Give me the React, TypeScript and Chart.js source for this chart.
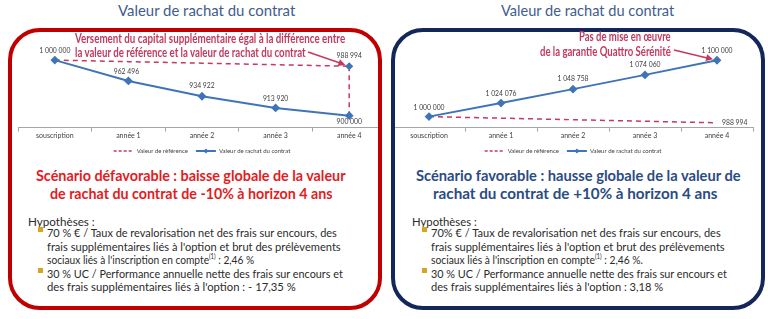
import React, { useEffect, useLayoutEffect, useRef } from "react";
import { Chart, registerables } from "chart.js";
Chart.register(...registerables);

// ---------- data ----------
const categories = ["souscription", "année 1", "année 2", "année 3", "année 4"];
const legendNames = ["Valeur de référence", "Valeur de rachat du contrat"];
const defavReference = [1000000, 997250, 994500, 991750, 988994];
const defavRachat = [1000000, 962496, 934922, 913920, 900000];
const favReference = [1000000, 997250, 994500, 991750, 988994];
const favRachat = [1000000, 1024076, 1048758, 1074060, 1100000];
const defavRange = [878500, 1020000];
const favRange = [980500, 1120000];

const chartTitle = "Valeur de rachat du contrat";
const defavNote = [
  "Versement  du capital supplémentaire égal à la différence entre",
  "la valeur de référence et la valeur de rachat du contrat",
];
const favNote = ["Pas de mise en œuvre", "de la garantie Quattro Sérénité"];
const defavScenario = [
  "Scénario défavorable : baisse globale de la valeur",
  "de rachat du contrat de -10% à horizon 4 ans",
];
const favScenario = [
  "Scénario favorable : hausse globale de la valeur de",
  "rachat du contrat de +10% à horizon 4 ans",
];
const hypTitle = "Hypothèses :";
const defavHyp = [
  "70 % € / Taux de revalorisation net des frais sur encours, des",
  "frais supplémentaires liés à l'option et brut des prélèvements",
  ["sociaux liés à l'inscription en compte", " : 2,46 %"],
  "30 % UC / Performance annuelle nette des frais sur encours et",
  "des frais supplémentaires liés à l'option : - 17,35 %",
];
const favHyp = [
  "70% € / Taux de revalorisation net des frais sur encours, des",
  "frais supplémentaires liés à l'option et brut des prélèvements",
  ["sociaux liés à l'inscription en compte", " : 2,46 %."],
  "30 % UC / Performance annuelle nette des frais sur encours et",
  "des frais supplémentaires liés à l'option : 3,18 %",
];

// ---------- styles ----------
const FONT = "Lato, 'Liberation Sans', sans-serif";
const REF_COLOR = "#c43a5e";
const LINE_COLOR = "#3f74b9";
Chart.defaults.font.family = FONT;

function fmt(v: number) {
  return String(v).replace(/\B(?=(\d{3})+(?!\d))/g, " ");
}

const chartExtras = {
  id: "chartExtras",
  beforeDatasetsDraw(chart: any, _a: any, opts: any) {
    if (!opts.gapLine) return;
    const ctx = chart.ctx;
    const a = chart.getDatasetMeta(0).data[opts.gapLine.index];
    const b = chart.getDatasetMeta(1).data[opts.gapLine.index];
    ctx.save();
    ctx.strokeStyle = REF_COLOR;
    ctx.lineWidth = 1.5;
    ctx.setLineDash([5, 4]);
    ctx.beginPath();
    ctx.moveTo(a.x, a.y);
    ctx.lineTo(b.x, b.y);
    ctx.stroke();
    ctx.restore();
  },
  afterDatasetsDraw(chart: any, _a: any, opts: any) {
    const ctx = chart.ctx;
    ctx.save();
    ctx.font = "6.8px " + FONT;
    ctx.fillStyle = "#404040";
    ctx.textBaseline = "middle";
    for (const it of opts.labels || []) {
      const el = chart.getDatasetMeta(it.ds).data[it.i];
      const v = chart.data.datasets[it.ds].data[it.i];
      ctx.textAlign = it.align || "center";
      ctx.fillText(fmt(v), el.x + (it.dx || 0), el.y + it.dy);
    }
    if (opts.arrow) {
      const A = opts.arrow;
      const el = chart.getDatasetMeta(A.ds).data[A.i];
      const sx = A.fromX, sy = A.fromY;
      const ang = Math.atan2(el.y - sy, el.x - sx);
      const c = Math.cos(ang), s = Math.sin(ang);
      const ex = el.x - c * A.gap, ey = el.y - s * A.gap;
      ctx.strokeStyle = REF_COLOR;
      ctx.fillStyle = REF_COLOR;
      ctx.lineWidth = 1.5;
      ctx.beginPath();
      ctx.moveTo(sx, sy);
      ctx.lineTo(ex - c * 5, ey - s * 5);
      ctx.stroke();
      const h = 7, w = 3.5;
      ctx.beginPath();
      ctx.moveTo(ex, ey);
      ctx.lineTo(ex - h * c + w * s, ey - h * s - w * c);
      ctx.lineTo(ex - h * c - w * s, ey - h * s + w * c);
      ctx.closePath();
      ctx.fill();
    }
    ctx.restore();
  },
  afterDraw(chart: any) {
    const lg = chart.legend;
    if (!lg || !lg.legendHitBoxes) return;
    const hb = lg.legendHitBoxes[1];
    if (!hb) return;
    const ctx = chart.ctx;
    const cx = hb.left + 10, cy = hb.top + hb.height / 2;
    ctx.save();
    ctx.fillStyle = LINE_COLOR;
    ctx.beginPath();
    ctx.moveTo(cx, cy - 2.5);
    ctx.lineTo(cx + 2.5, cy);
    ctx.lineTo(cx, cy + 2.5);
    ctx.lineTo(cx - 2.5, cy);
    ctx.closePath();
    ctx.fill();
    ctx.restore();
  },
};

function LineChart(props: any) {
  const { left, top, width, height, reference, rachat, range, extras, refRadius } = props;
  const ref = useRef<HTMLCanvasElement>(null);
  useEffect(() => {
    const chart = new Chart(ref.current as HTMLCanvasElement, {
      type: "line",
      data: {
        labels: categories,
        datasets: [
          {
            label: legendNames[0],
            data: reference,
            borderColor: REF_COLOR,
            backgroundColor: REF_COLOR,
            borderWidth: 1.5,
            borderDash: [5, 4],
            pointRadius: refRadius,
            pointStyle: "rectRot",
            pointBackgroundColor: LINE_COLOR,
            pointBorderColor: LINE_COLOR,
            tension: 0,
            order: 1,
          },
          {
            label: legendNames[1],
            data: rachat,
            borderColor: LINE_COLOR,
            backgroundColor: LINE_COLOR,
            borderWidth: 2,
            pointStyle: "rectRot",
            pointRadius: 3,
            pointBackgroundColor: LINE_COLOR,
            pointBorderColor: LINE_COLOR,
            tension: 0,
            order: 0,
          },
        ],
      },
      options: {
        animation: false,
        responsive: false,
        layout: { padding: { left: 4, right: 4, top: 9, bottom: 0 } },
        scales: {
          x: {
            type: "category",
            offset: true,
            grid: { offset: true, drawOnChartArea: false, drawTicks: true, tickLength: 4, color: "#a6a6a6" },
            border: { color: "#a6a6a6" },
            ticks: { font: { size: 7, family: FONT }, color: "#404040", padding: 0, maxRotation: 0, autoSkip: false },
          },
          y: { display: false, min: range[0], max: range[1] },
        },
        plugins: {
          tooltip: { enabled: false },
          legend: {
            position: "bottom",
            labels: {
              usePointStyle: true,
              pointStyleWidth: 20,
              boxHeight: 6,
              padding: 8,
              color: "#404040",
              font: { size: 6, family: FONT },
              generateLabels: (c: any) =>
                (Chart.defaults.plugins.legend.labels as any)
                  .generateLabels(c)
                  .map((it: any) => {
                    const ds: any = c.data.datasets[it.datasetIndex];
                    return {
                      ...it,
                      pointStyle: "line",
                      strokeStyle: ds.borderColor,
                      fillStyle: ds.borderColor,
                      lineWidth: ds.borderWidth,
                      lineDash: it.datasetIndex === 0 ? [3, 2] : [],
                    };
                  })
                  .sort((a: any, b: any) => a.datasetIndex - b.datasetIndex),
            },
          },
          chartExtras: extras,
        } as any,
      },
      plugins: [chartExtras as any],
    });
    return () => chart.destroy();
  }, []);
  return (
    <canvas
      ref={ref}
      width={width}
      height={height}
      style={{ position: "absolute", left, top, width, height }}
    />
  );
}

function Fit(props: any) {
  const { x, y, w, size, weight = 400, color, children } = props;
  const ref = useRef<HTMLSpanElement>(null);
  useLayoutEffect(() => {
    const el = ref.current;
    if (!el) return;
    const natural = el.offsetWidth;
    if (natural > 0) el.style.transform = `scaleX(${w / natural})`;
  }, [w]);
  const lh = Math.round(size * 1.3);
  return (
    <div
      style={{
        position: "absolute",
        left: x,
        top: y - lh / 2,
        height: lh,
        lineHeight: lh + "px",
        whiteSpace: "nowrap",
        zIndex: 2,
      }}
    >
      <span
        ref={ref}
        style={{
          display: "inline-block",
          transformOrigin: "0 50%",
          fontFamily: FONT,
          fontSize: size,
          fontWeight: weight,
          color,
        }}
      >
        {children}
      </span>
    </div>
  );
}

function HypBlock(props: any) {
  const { x0, lines, widths } = props;
  const ys = [232, 246, 259, 273, 286];
  const bulletRows = [0, 3];
  return (
    <>
      <Fit x={x0 - 19} y={221} w={props.hypW} size={12} color="#2b2b2b">{hypTitle}</Fit>
      {bulletRows.map((r) => (
        <div
          key={"b" + r}
          style={{
            position: "absolute",
            left: x0 - 9,
            top: ys[r] - 5,
            width: 5,
            height: 5,
            background: "#d6a522",
            zIndex: 2,
          }}
        />
      ))}
      {lines.map((ln: any, i: number) => (
        <Fit key={i} x={x0} y={ys[i]} w={widths[i]} size={12} color="#2b2b2b">
          {Array.isArray(ln) ? (
            <>
              {ln[0]}
              <sup style={{ fontSize: 7, lineHeight: 0, verticalAlign: "5px" }}>(1)</sup>
              {ln[1]}
            </>
          ) : (
            ln
          )}
        </Fit>
      ))}
    </>
  );
}

export default function App() {
  return (
    <div
      style={{
        position: "fixed",
        left: 0,
        top: 0,
        width: 768,
        height: 319,
        background: "#ffffff",
        overflow: "hidden",
      }}
    >
      {/* titles */}
      <Fit x={118} y={10} w={177} size={15} color="#3f5d8e">{chartTitle}</Fit>
      <Fit x={501} y={10} w={173} size={15} color="#3f5d8e">{chartTitle}</Fit>

      {/* left box */}
      <div
        style={{
          position: "absolute",
          left: 8,
          top: 28,
          width: 374,
          height: 282,
          border: "4px solid #c00000",
          borderRadius: 32,
          boxSizing: "border-box",
          overflow: "hidden",
        }}
      >
        <LineChart
          left={0}
          top={8}
          width={380}
          height={124}
          reference={defavReference}
          rachat={defavRachat}
          range={defavRange}
          refRadius={[0, 0, 0, 0, 3]}
          extras={{
            gapLine: { index: 4 },
            labels: [
              { ds: 1, i: 0, dy: -9 },
              { ds: 1, i: 1, dy: -9, dx: -2 },
              { ds: 1, i: 2, dy: -10 },
              { ds: 1, i: 3, dy: -9 },
              { ds: 1, i: 4, dy: 6 },
              { ds: 0, i: 4, dy: -10 },
            ],
            arrow: { ds: 0, i: 4, fromX: 296, fromY: 12, gap: 4 },
          }}
        />
      </div>

      {/* right box */}
      <div
        style={{
          position: "absolute",
          left: 391,
          top: 28,
          width: 374,
          height: 282,
          border: "4px solid #13275a",
          borderRadius: 32,
          boxSizing: "border-box",
          overflow: "hidden",
        }}
      >
        <LineChart
          left={-8}
          top={8}
          width={372}
          height={124}
          reference={favReference}
          rachat={favRachat}
          range={favRange}
          refRadius={0}
          extras={{
            labels: [
              { ds: 1, i: 0, dy: -9 },
              { ds: 1, i: 1, dy: -9 },
              { ds: 1, i: 2, dy: -10 },
              { ds: 1, i: 3, dy: -10 },
              { ds: 1, i: 4, dy: -9 },
              { ds: 0, i: 4, dy: 0, dx: 5, align: "left" },
            ],
            arrow: { ds: 1, i: 4, fromX: 287, fromY: 10, gap: 4 },
          }}
        />
      </div>

      {/* annotations */}
      <Fit x={75} y={38} w={270} size={12.5} weight={700} color={REF_COLOR}>{defavNote[0]}</Fit>
      <Fit x={75} y={52} w={231} size={12.5} weight={700} color={REF_COLOR}>{defavNote[1]}</Fit>
      <Fit x={579} y={36} w={92} size={12.5} weight={700} color={REF_COLOR}>{favNote[0]}</Fit>
      <Fit x={540} y={51} w={131} size={12.5} weight={700} color={REF_COLOR}>{favNote[1]}</Fit>

      {/* scenarios */}
      <Fit x={36} y={175} w={310} size={15} weight={700} color="#e31b23">{defavScenario[0]}</Fit>
      <Fit x={50} y={193} w={283} size={15} weight={700} color="#e31b23">{defavScenario[1]}</Fit>
      <Fit x={416} y={175} w={325} size={15} weight={700} color="#2b4b83">{favScenario[0]}</Fit>
      <Fit x={433} y={193} w={284} size={15} weight={700} color="#2b4b83">{favScenario[1]}</Fit>

      {/* hypotheses */}
      <HypBlock x0={47} hypW={67} lines={defavHyp} widths={[290, 294, 207, 296, 249]} />
      <HypBlock x0={431} hypW={65} lines={favHyp} widths={[290, 294, 212, 296, 232]} />
    </div>
  );
}
